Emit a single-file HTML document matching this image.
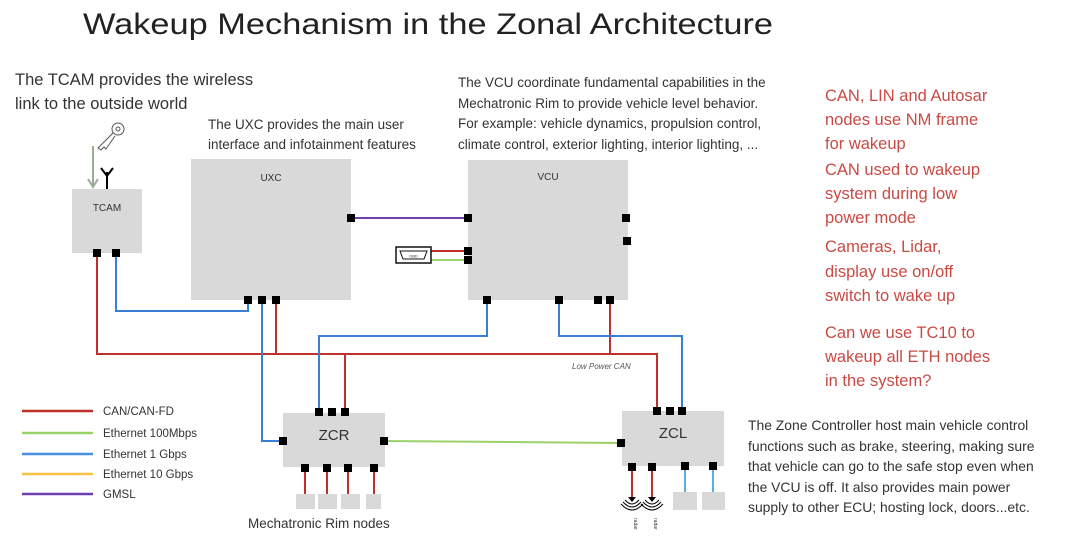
<!DOCTYPE html>
<html><head><style>
body{margin:0;background:#fff;width:1080px;height:543px;overflow:hidden}
svg{display:block}
text{font-family:"Liberation Sans",sans-serif}
</style></head><body>
<svg width="1080" height="543" viewBox="0 0 1080 543" xmlns="http://www.w3.org/2000/svg">
<text x="83" y="34" font-size="30" fill="#222" textLength="690" lengthAdjust="spacingAndGlyphs">Wakeup Mechanism in the Zonal Architecture</text>
<g font-size="16.5" fill="#333">
<text x="15" y="85">The TCAM provides the wireless</text>
<text x="15" y="109">link to the outside world</text>
</g>
<g font-size="13.5" fill="#333">
<text x="208" y="129">The UXC provides the main user</text>
<text x="208" y="149">interface and infotainment features</text>
<text x="458" y="87">The VCU coordinate fundamental capabilities in the</text>
<text x="458" y="108">Mechatronic Rim to provide vehicle level behavior.</text>
<text x="458" y="128">For example: vehicle dynamics, propulsion control,</text>
<text x="458" y="149">climate control, exterior lighting, interior lighting, ...</text>
<text x="248" y="528">Mechatronic Rim nodes</text>
</g>
<g font-size="13.9" fill="#333">
<text x="748" y="430">The Zone Controller host main vehicle control</text>
<text x="748" y="451">functions such as brake, steering, making sure</text>
<text x="748" y="471">that vehicle can go to the safe stop even when</text>
<text x="748" y="492">the VCU is off. It also provides main power</text>
<text x="748" y="512">supply to other ECU; hosting lock, doors...etc.</text>
</g>
<g font-size="16.5" fill="#c94a44">
<text x="825" y="101">CAN, LIN and Autosar</text>
<text x="825" y="125">nodes use NM frame</text>
<text x="825" y="149">for wakeup</text>
<text x="825" y="175">CAN used to wakeup</text>
<text x="825" y="199">system during low</text>
<text x="825" y="223">power mode</text>
<text x="825" y="252">Cameras, Lidar,</text>
<text x="825" y="277">display use on/off</text>
<text x="825" y="301">switch to wake up</text>
<text x="825" y="338">Can we use TC10 to</text>
<text x="825" y="362">wakeup all ETH nodes</text>
<text x="825" y="386">in the system?</text>
</g>
<!-- legend -->
<g stroke-width="2.5">
<line x1="22" y1="411" x2="93" y2="411" stroke="#c0302a"/>
<line x1="22" y1="433" x2="93" y2="433" stroke="#9ad26a"/>
<line x1="22" y1="454" x2="93" y2="454" stroke="#4a90e2"/>
<line x1="22" y1="474" x2="93" y2="474" stroke="#f5c242"/>
<line x1="22" y1="494" x2="93" y2="494" stroke="#6f3fb0"/>
</g>
<g font-size="11.5" fill="#333">
<text x="103" y="415">CAN/CAN-FD</text>
<text x="103" y="437">Ethernet 100Mbps</text>
<text x="103" y="458">Ethernet 1 Gbps</text>
<text x="103" y="478">Ethernet 10 Gbps</text>
<text x="103" y="498">GMSL</text>
</g>
<!-- boxes -->
<g fill="#d9d9d9">
<rect x="72" y="189" width="70" height="64"/>
<rect x="191" y="159" width="160" height="141"/>
<rect x="468" y="160" width="160" height="140"/>
<rect x="283" y="413" width="102" height="54"/>
<rect x="622" y="411" width="102" height="55"/>
<rect x="296" y="494" width="19" height="15"/>
<rect x="318" y="494" width="19" height="15"/>
<rect x="341" y="494" width="19" height="15"/>
<rect x="366" y="494" width="15" height="15"/>
<rect x="673" y="492" width="24" height="18"/>
<rect x="702" y="492" width="23" height="18"/>
</g>
<g font-size="10" fill="#333" text-anchor="middle">
<text x="107" y="211">TCAM</text>
<text x="271" y="181">UXC</text>
<text x="548" y="180">VCU</text>
</g>
<g font-size="15" fill="#333" text-anchor="middle">
<text x="334" y="440">ZCR</text>
<text x="673" y="438">ZCL</text>
</g>
<!-- wires -->
<g fill="none" stroke-width="2">
<polyline points="97,253 97,354 657,354 657,410" stroke="#c0302a"/>
<line x1="276" y1="300" x2="276" y2="354" stroke="#c0302a"/>
<line x1="345" y1="354" x2="345" y2="412" stroke="#c0302a"/>
<line x1="610" y1="300" x2="610" y2="354" stroke="#c0302a"/>
<polyline points="116,253 116,311 248,311 248,300" stroke="#3a7fd5"/>
<polyline points="262,300 262,441 283,441" stroke="#3a7fd5"/>
<polyline points="487,300 487,336 319,336 319,412" stroke="#3a7fd5"/>
<polyline points="559,300 559,336 682,336 682,410" stroke="#3a7fd5"/>
<line x1="351" y1="218" x2="468" y2="218" stroke="#7040b0"/>
<line x1="431" y1="251" x2="468" y2="251" stroke="#c0302a"/>
<line x1="431" y1="260" x2="468" y2="260" stroke="#9ad26a"/>
<line x1="384" y1="441" x2="621" y2="443" stroke="#9ad26a"/>
<line x1="305" y1="467" x2="305" y2="494" stroke="#c0302a"/>
<line x1="327" y1="467" x2="327" y2="494" stroke="#c0302a"/>
<line x1="348" y1="467" x2="348" y2="494" stroke="#c0302a"/>
<line x1="374" y1="467" x2="374" y2="494" stroke="#c0302a"/>
<line x1="632" y1="467" x2="632" y2="497" stroke="#c0302a"/>
<line x1="652" y1="467" x2="652" y2="497" stroke="#c0302a"/>
<line x1="685" y1="466" x2="685" y2="492" stroke="#5aaee8"/>
<line x1="713" y1="466" x2="713" y2="492" stroke="#5aaee8"/>
</g>
<text x="572" y="369" font-size="8" font-style="italic" fill="#555">Low Power CAN</text>
<!-- ports -->
<g fill="#000">
<rect x="93" y="249" width="8" height="8"/><rect x="112" y="249" width="8" height="8"/>
<rect x="244" y="296" width="8" height="8"/><rect x="258" y="296" width="8" height="8"/><rect x="272" y="296" width="8" height="8"/>
<rect x="347" y="214" width="8" height="8"/>
<rect x="464" y="214" width="8" height="8"/><rect x="464" y="247" width="8" height="8"/><rect x="464" y="256" width="8" height="8"/>
<rect x="622" y="214" width="8" height="8"/><rect x="623" y="237" width="8" height="8"/>
<rect x="483" y="296" width="8" height="8"/><rect x="555" y="296" width="8" height="8"/><rect x="594" y="296" width="8" height="8"/><rect x="606" y="296" width="8" height="8"/>
<rect x="315" y="408" width="8" height="8"/><rect x="328" y="408" width="8" height="8"/><rect x="341" y="408" width="8" height="8"/>
<rect x="279" y="437" width="8" height="8"/><rect x="380" y="437" width="8" height="8"/>
<rect x="301" y="464" width="8" height="8"/><rect x="323" y="464" width="8" height="8"/><rect x="344" y="464" width="8" height="8"/><rect x="370" y="464" width="8" height="8"/>
<rect x="653" y="407" width="8" height="8"/><rect x="666" y="407" width="8" height="8"/><rect x="678" y="407" width="8" height="8"/>
<rect x="617" y="439" width="8" height="8"/>
<rect x="628" y="463" width="8" height="8"/><rect x="648" y="463" width="8" height="8"/><rect x="681" y="462" width="8" height="8"/><rect x="709" y="462" width="8" height="8"/>
</g>
<!-- OBD -->
<rect x="396" y="247" width="35" height="16" fill="#fff" stroke="#111" stroke-width="1.5"/>
<path d="M400,251 L427,251 L424,259 L403,259 Z" fill="none" stroke="#111" stroke-width="1"/>
<text x="413.5" y="257.5" font-size="4" text-anchor="middle" fill="#333">OBD</text>
<!-- antenna -->
<g stroke="#000" stroke-width="2" fill="none">
<line x1="107" y1="172" x2="107" y2="189"/>
<path d="M101,168 L107,176 L113,168"/>
</g>
<!-- key -->
<g stroke="#555" stroke-width="1" fill="none">
<circle cx="118" cy="129" r="6"/>
<circle cx="118" cy="129" r="2"/>
<path d="M113,133 L98,148 L101,150 L104,147 L106,149 L115,136"/>
</g>
<!-- grey arrow -->
<g stroke="#9aab96" stroke-width="2" fill="none">
<line x1="93" y1="146" x2="93" y2="186"/>
<path d="M88,179 L93,187 L98,179"/>
</g>
<!-- radars -->
<g fill="#000">
<path d="M628,497 L636,497 L632,502 Z"/><path d="M648,497 L656,497 L652,502 Z"/>
</g>
<g stroke="#000" stroke-width="1" fill="none">
<path d="M625,500 Q632,508 639,500"/><path d="M623,502 Q632,512 641,502"/><path d="M621,504 Q632,516 643,504"/>
<path d="M645,500 Q652,508 659,500"/><path d="M643,502 Q652,512 661,502"/><path d="M641,504 Q652,516 663,504"/>
</g>
<g font-size="5" fill="#333">
<text transform="translate(634,518) rotate(90)">radar</text>
<text transform="translate(654,518) rotate(90)">radar</text>
</g>
</svg>
</body></html>
